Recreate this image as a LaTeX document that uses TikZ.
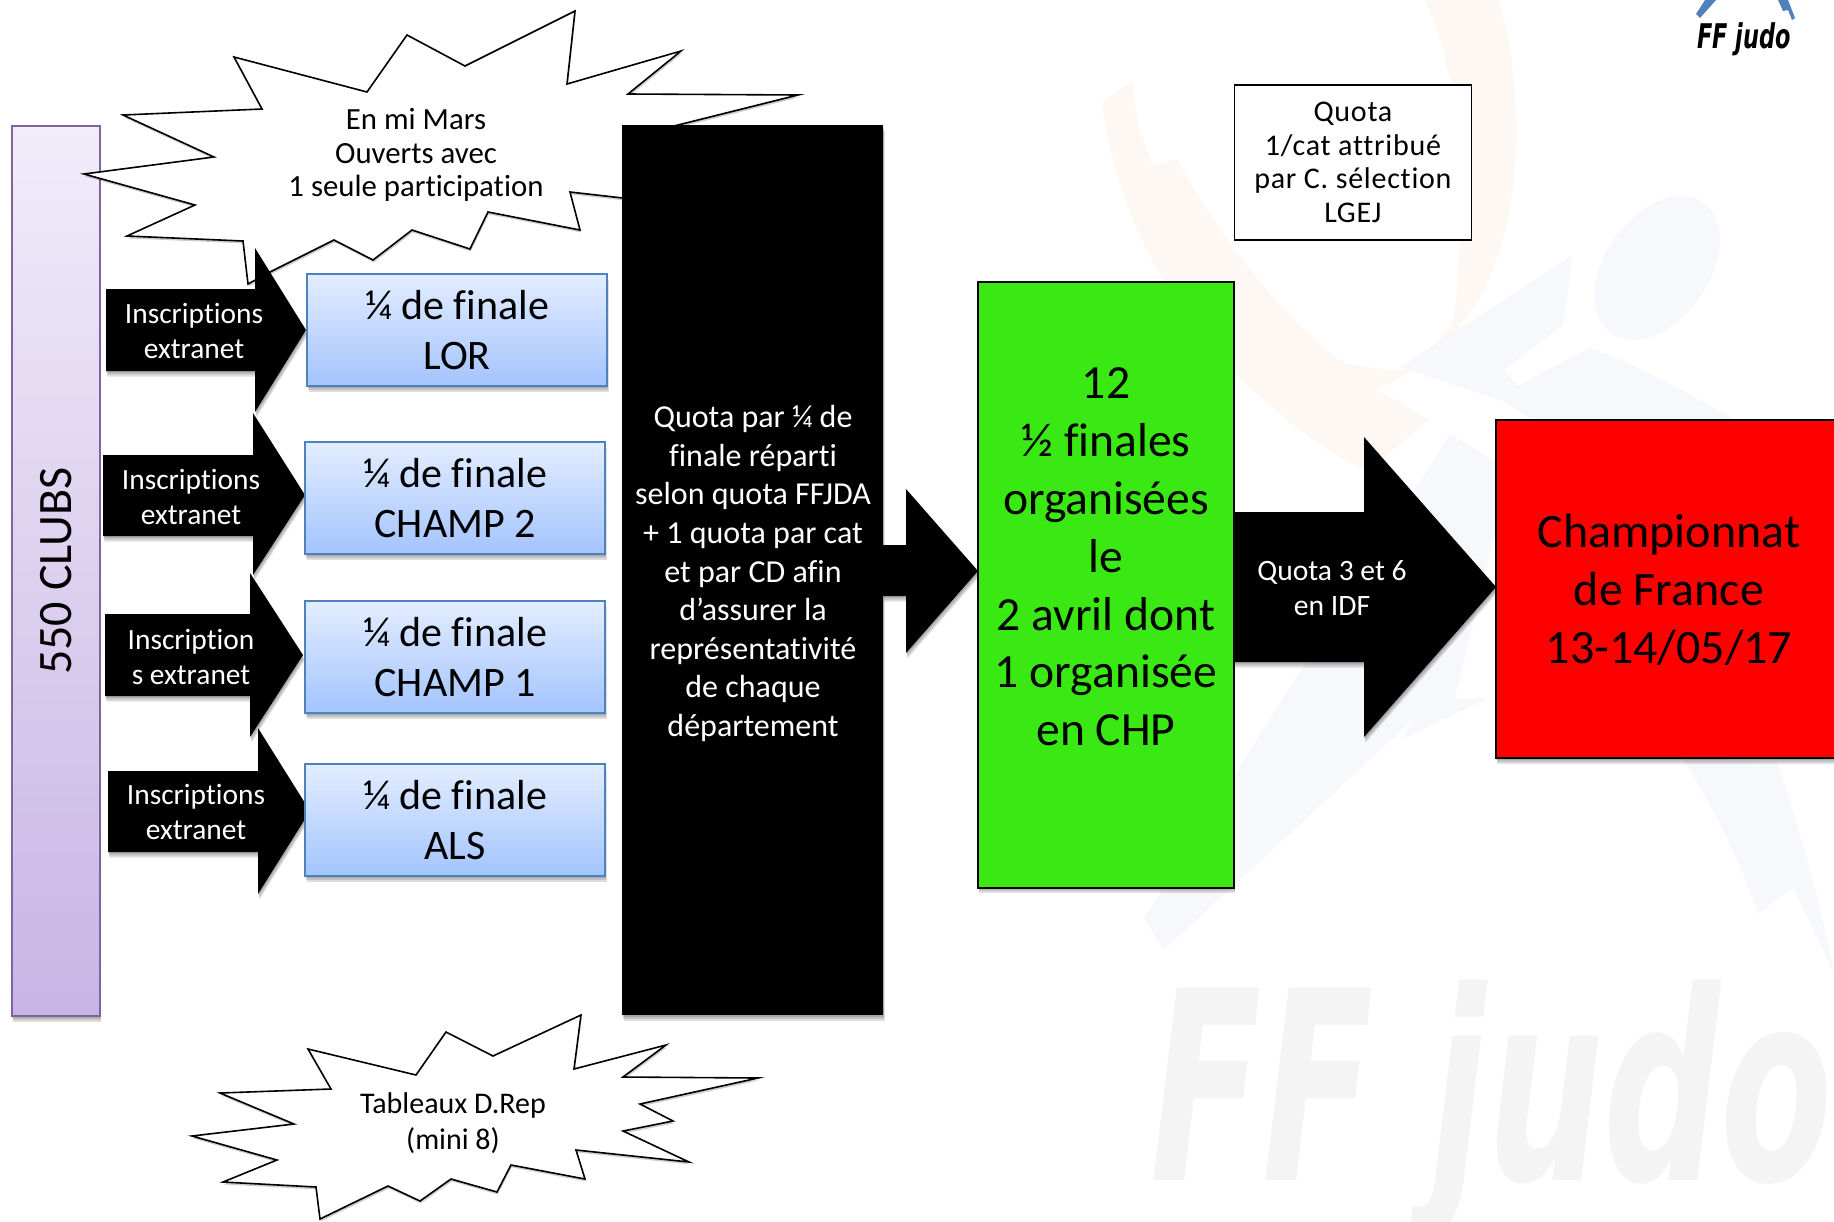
\documentclass[tikz,border=0pt]{standalone}
\usepackage{fontspec}
\setmainfont[Ligatures=NoCommon]{Carlito}
\newfontfamily\wmfont{DejaVu Sans}
\newfontfamily\spacedfont[Ligatures=NoCommon,LetterSpace=2.5]{Carlito}
\usetikzlibrary{shadows}
\definecolor{wmblue}{HTML}{F7F8FB}
\definecolor{wmorange}{HTML}{FEF8F4}
\definecolor{wmgrey}{HTML}{F4F4F4}
\definecolor{logoblue}{HTML}{4F81BD}
\definecolor{purpleline}{HTML}{8064A2}
\definecolor{purple1}{HTML}{F1ECFA}
\definecolor{purple2}{HTML}{C8B5E4}
\definecolor{blue1}{HTML}{E3EDFF}
\definecolor{blue2}{HTML}{A3C4FE}
\definecolor{greenbox}{HTML}{3AE814}
\tikzset{
  softshadow/.style={
    drop shadow={shadow xshift=0.3pt,shadow yshift=-0.8pt,opacity=.13,fill=black},
    drop shadow={shadow xshift=0.5pt,shadow yshift=-1.8pt,opacity=.13,fill=black},
    drop shadow={shadow xshift=0.7pt,shadow yshift=-2.8pt,opacity=.13,fill=black}},
  clubsbox/.style={draw=purpleline,line width=1pt,top color=purple1,bottom color=purple2,softshadow,anchor=north west,inner sep=0pt,minimum width=44pt,minimum height=445pt},
  quartbox/.style={draw=logoblue,line width=1.1pt,top color=blue1,bottom color=blue2,softshadow,anchor=north west,inner sep=0pt,align=center,minimum width=150pt,minimum height=56pt,font=\fontsize{21pt}{25.4pt}\selectfont},
  blackbox/.style={fill=black,softshadow,anchor=north west,inner sep=0pt,minimum width=130.5pt,minimum height=445pt},
  blockarr/.style={fill=black,softshadow},
  arrtext/.style={text=white,align=center,inner sep=0pt,font=\fontsize{14.7pt}{17.8pt}\selectfont},
  burst/.style={draw=black,fill=white,line width=0.8pt,line join=miter,drop shadow={shadow xshift=0.4pt,shadow yshift=-1.2pt,opacity=.2,fill=black}},
  bursttext/.style={align=center,inner sep=0pt},
  bigbox/.style={draw=black,line width=1pt,softshadow,anchor=north west,inner sep=0pt},
  bigtext/.style={align=center,inner sep=0pt,font=\fontsize{23.8pt}{28.9pt}\selectfont},
}
\begin{document}
\begin{tikzpicture}[x=0.5pt,y=-0.5pt]
\useasboundingbox (0,0) rectangle (1834,1221);
% watermark
\fill[wmorange] (1132,80) -- (1102,102) .. controls (1120,260) and (1230,400) .. (1366,472) -- (1430,420) -- (1381,392) .. controls (1290,330) and (1220,240) .. (1178,159) -- (1154,166) .. controls (1140,140) and (1135,110) .. (1132,80) -- cycle;
\fill[wmorange] (1425,0) -- (1499,0) .. controls (1525,90) and (1530,250) .. (1455,332) .. controls (1430,360) and (1400,380) .. (1376,389) .. controls (1300,370) and (1240,330) .. (1200,290) .. controls (1260,340) and (1340,370) .. (1405,370) .. controls (1445,340) and (1455,320) .. (1455,310) .. controls (1465,200) and (1465,90) .. (1425,0) -- cycle;
\fill[wmblue,rotate around={-35:(1657,268)}] (1657,268) ellipse [x radius=52,y radius=80];
\fill[wmblue] (1573,255) -- (1563,325) -- (1504,370) -- (1517,386) -- (1590,348) .. controls (1640,365) and (1680,390) .. (1715,408) -- (1834,480) -- (1834,600) -- (1500,400) -- (1400,367) -- cycle;
\fill[wmblue] (1450,434) -- (1510,470) -- (1455,698) -- (1489,698) -- (1400,740) -- (1415,718) -- (1164,950) -- (1144,918) -- cycle;
\fill[wmblue] (1681,757) -- (1777,762) .. controls (1800,830) and (1820,900) .. (1834,973) -- (1793,888) -- (1758,914) .. controls (1740,860) and (1710,800) .. (1681,757) -- cycle;
\node[wmgrey,inner sep=0pt,anchor=base west] (wmtext) at (1150,1180) {\scalebox{0.62}[1]{\wmfont\bfseries\itshape\fontsize{132pt}{132pt}\selectfont FF judo}};
% small logo
\node[inner sep=0pt,anchor=base west] (logotext) at (1697,48) {\scalebox{0.66}[1]{\wmfont\bfseries\itshape\fontsize{17pt}{17pt}\selectfont FF judo}};
\fill[logoblue] (1696,14) -- (1700,18) -- (1716,0) -- (1705,0) -- cycle;
\fill[logoblue] (1778,0) -- (1783,11) -- (1788,10) -- (1792,20) -- (1795,18) -- (1788,0) -- cycle;

% clubs
\node[clubsbox] (clubs) at (10.5,125) {};
\node[rotate=90,inner sep=0pt,font=\fontsize{24pt}{28pt}\selectfont] (clubstext) at (56,571) {550 CLUBS};

% bursts
\path[burst] (575,11) -- (567,84) -- (681,51) -- (628,94) -- (798,95) -- (650,132) -- (746,212) -- (570,192) -- (580,230) -- (488,212) -- (470,249) -- (412,230) -- (373,260) -- (334,240) -- (270,272) -- (248,284) -- (243,241) -- (127,236) -- (195,205) -- (84,174) -- (214,157) -- (123,115) -- (262,109) -- (234,57) -- (367,92) -- (407,35) -- (465,66) -- cycle;
\node[bursttext,font=\fontsize{15.4pt}{16.8pt}\selectfont] (b1text) at (416,155) {En mi Mars\\Ouverts avec\\1 seule participation};
\path[burst] (581,1015) -- (574,1069) -- (666,1045) -- (623,1077) -- (758,1078) -- (640,1104) -- (673,1121) -- (623,1131) -- (689,1162) -- (576,1150) -- (585,1179) -- (511,1165) -- (497,1192) -- (451,1179) -- (420,1201) -- (388,1186) -- (320,1219) -- (316,1187) -- (223,1182) -- (277,1160) -- (192,1136) -- (294,1124) -- (220,1093) -- (331,1089) -- (308,1049) -- (416,1075) -- (446,1032) -- (493,1056) -- cycle;
\node[bursttext,font=\fontsize{15pt}{18pt}\selectfont] (b2text) at (453,1123) {Tableaux D.Rep\\(mini 8)};

% quarter-final arrows
\path[blockarr] (106,289) -- (255,289) -- (255,248) -- (306,330) -- (255,412) -- (255,371) -- (106,371) -- cycle;
\path[blockarr] (103,455) -- (253,455) -- (253,413) -- (305,495) -- (253,575) -- (253,536) -- (103,536) -- cycle;
\path[blockarr] (105,614) -- (250,614) -- (250,573) -- (303,655) -- (250,737) -- (250,696) -- (105,696) -- cycle;
\path[blockarr] (108,771) -- (258,771) -- (258,728) -- (310,811) -- (258,894) -- (258,852) -- (108,852) -- cycle;
\node[arrtext] (a1) at (194,331) {Inscriptions\\extranet};
\node[arrtext] (a2) at (191,497) {Inscriptions\\extranet};
\node[arrtext] (a3) at (191,657) {Inscription\\s extranet};
\node[arrtext] (a4) at (196,812) {Inscriptions\\extranet};

% quarter-final boxes
\node[quartbox] (lor) at (306,273) {¼ de finale\\LOR};
\node[quartbox] (ch2) at (304,441) {¼ de finale\\CHAMP 2};
\node[quartbox] (ch1) at (304,600) {¼ de finale\\CHAMP 1};
\node[quartbox] (als) at (304,763) {¼ de finale\\ALS};

% middle
\node[blackbox] (quota) at (622,125) {};
\node[text=white,align=center,inner sep=0pt,font=\fontsize{16pt}{19.3pt}\selectfont] (quotatext) at (753,573.5) {Quota par ¼ de\\finale réparti\\selon quota FFJDA\\+ 1 quota par cat\\et par CD afin\\d’assurer la\\représentativité\\de chaque\\département};
\path[blockarr] (883,545) -- (906,545) -- (906,489) -- (978,571) -- (906,653) -- (906,596) -- (883,596) -- cycle;

% semi-finals
\node[bigbox,fill=greenbox,minimum width=128pt,minimum height=303pt] (semi) at (977,280.5) {};
\node[bigtext] (semitext) at (1106,557) {12\\½ finales\\organisées\\le\\2 avril dont\\1 organisée\\en CHP};

\path[blockarr] (1234,512) -- (1364,512) -- (1364,437) -- (1496,587) -- (1364,737) -- (1364,662) -- (1234,662) -- cycle;
\node[arrtext,font=\fontsize{14.8pt}{17.5pt}\selectfont] (a6) at (1332,588) {Quota 3 et 6\\en IDF};

% final
\node[bigbox,fill=red,minimum width=174pt,minimum height=169pt] (final) at (1494.5,419) {};
\node[bigtext,font=\fontsize{24pt}{29pt}\selectfont] (finaltext) at (1669,590) {Championnat\\de France\\13-14/05/17};

% quota box
\node[draw=black,fill=white,line width=0.9pt,anchor=north west,inner sep=0pt,minimum width=118.5pt,minimum height=77.5pt,align=center,font=\spacedfont\fontsize{15pt}{16.7pt}\selectfont] (qbox) at (1233.5,84) {Quota\\1/cat attribué\\par C. sélection\\LGEJ};
\end{tikzpicture}
\end{document}
